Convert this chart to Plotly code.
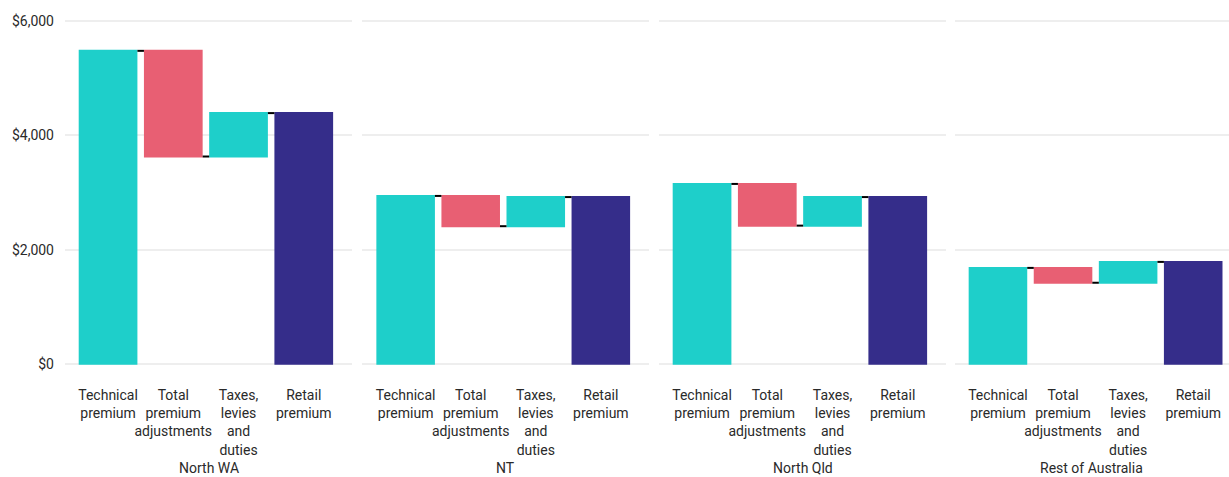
import plotly.graph_objects as go

regions = ["North WA", "NT", "North Qld", "Rest of Australia"]
categories = ["Technical<br>premium", "Total<br>premium<br>adjustments",
              "Taxes,<br>levies<br>and<br>duties", "Retail<br>premium"]
measures = ["relative", "relative", "relative", "total"]

technical = [5480, 2940, 3150, 1680]
adjustments = [-1850, -530, -730, -260]
taxes = [760, 510, 500, 365]

yticks = [0, 2000, 4000, 6000]
ytick_labels = ["$0", "$2,000", "$4,000", "$6,000"]

TEAL = "#1ECFCA"
RED = "#E85F73"
NAVY = "#352D8A"
TEXT = "#2a2a2a"
GRID = "#EEEEEE"
FONT = "Roboto, Arial, sans-serif"

domains = [[0.0, 0.2466], [0.2552, 0.5017], [0.5103, 0.7569], [0.7646, 1.0]]
xranges = [[-0.66, 3.74], [-0.67, 3.74], [-0.66, 3.74], [-0.66, 3.55]]

fig = go.Figure()
layout = dict(
    width=1229, height=477,
    margin=dict(l=65, r=0, t=20, b=112, autoexpand=False),
    paper_bgcolor="white", plot_bgcolor="white",
    showlegend=False,
    waterfallgap=0.1,
    font=dict(family=FONT, size=14, color=TEXT),
)
annotations = []

for i, region in enumerate(regions):
    n = "" if i == 0 else str(i + 1)
    vals = [technical[i], adjustments[i], taxes[i], 0]
    fig.add_trace(go.Waterfall(
        x=list(range(4)), y=vals, measure=measures,
        xaxis="x" + n, yaxis="y" + n,
        increasing=dict(marker=dict(color=TEAL)),
        decreasing=dict(marker=dict(color=RED)),
        totals=dict(marker=dict(color=NAVY)),
        connector=dict(mode="between", line=dict(color="black", width=2)),
        hoverinfo="skip",
    ))
    layout["xaxis" + n] = dict(
        domain=domains[i], anchor="y" + n,
        range=xranges[i], automargin=False,
        tickmode="array", tickvals=list(range(4)), ticktext=categories,
        tickangle=0, ticklabelstandoff=20,
        showgrid=False, zeroline=False, showline=False, ticks="",
        tickfont=dict(size=14, color=TEXT, family=FONT),
        fixedrange=True,
    )
    ydict = dict(
        anchor="x" + n, range=[-20, 6020], automargin=False,
        tickmode="array", tickvals=yticks, ticktext=ytick_labels,
        showgrid=True, gridcolor=GRID, gridwidth=2,
        zeroline=True, zerolinecolor=GRID, zerolinewidth=2,
        showline=False, ticks="", ticklabelstandoff=10,
        showticklabels=(i == 0),
        tickfont=dict(size=14, color=TEXT, family=FONT),
        fixedrange=True,
    )
    if i > 0:
        ydict["matches"] = "y"
    layout["yaxis" + n] = ydict
    annotations.append(dict(
        text=region, xref="x" + n + " domain", x=0.5, yref="paper", y=-0.298,
        xanchor="center", yanchor="middle", showarrow=False,
        font=dict(size=14, color=TEXT, family=FONT),
    ))

layout["annotations"] = annotations
fig.update_layout(**layout)
fig.write_html("out.html")
